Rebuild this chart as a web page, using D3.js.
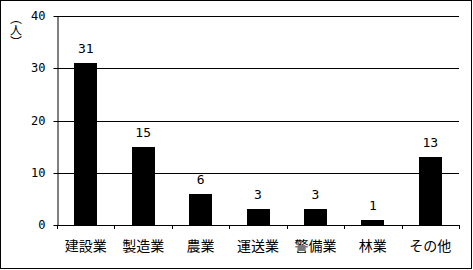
<!DOCTYPE html>
<html><head><meta charset="utf-8">
<script src="https://cdn.jsdelivr.net/npm/d3@7"></script>
<style>html,body{margin:0;padding:0;background:#fff;}svg{display:block;}</style>
</head><body>
<script>
const categories = ["建設業","製造業","農業","運送業","警備業","林業","その他"];
const values = [31,15,6,3,3,1,13];
const yTicks = [0,10,20,30,40];

const W = 473, H = 270;
const m = {left:57, right:14, top:16, bottom:45};
const svg = d3.select("body").append("svg").attr("width",W).attr("height",H);

svg.append("rect").attr("x",0.5).attr("y",0.5).attr("width",471).attr("height",268)
  .attr("fill","#fff").attr("stroke","#000").attr("stroke-width",1);

const x = d3.scaleBand().domain(categories).range([m.left, W-m.right]).paddingInner(0.6).paddingOuter(0.3);
const y = d3.scaleLinear().domain([0,40]).range([H-m.bottom, m.top]);

// gridlines
svg.append("g").selectAll("line").data(yTicks.filter(d=>d>0)).join("line")
  .attr("x1",m.left).attr("x2",W-m.right)
  .attr("y1",d=>Math.round(y(d))+0.5).attr("y2",d=>Math.round(y(d))+0.5)
  .attr("stroke","#000").attr("stroke-width",1);

// bars
svg.append("g").selectAll("rect").data(values).join("rect")
  .attr("x",(d,i)=>Math.round(x(categories[i])))
  .attr("width",Math.round(x.bandwidth()))
  .attr("y",d=>Math.round(y(d)))
  .attr("height",d=>Math.round(y(0))-Math.round(y(d)))
  .attr("fill","#000");

// y axis
const yAxis = svg.append("g").attr("transform",`translate(${m.left+0.5},0.5)`)
  .call(d3.axisLeft(y).tickValues(yTicks).tickSize(4).tickPadding(8).tickSizeOuter(0));
yAxis.selectAll("text").attr("font-family","'DejaVu Sans Mono', monospace").attr("font-size",12).attr("fill","#000");
yAxis.select(".domain").attr("stroke","#000");
yAxis.selectAll(".tick line").attr("stroke","#000");
yAxis.selectAll(".tick").attr("transform",d=>`translate(0,${Math.round(y(d))})`);

// x axis: ticks at band boundaries
const bounds = d3.range(categories.length+1).map(i=> m.left + i*(W-m.right-m.left)/categories.length);
const xg = svg.append("g");
xg.append("line").attr("x1",m.left).attr("x2",W-m.right)
  .attr("y1",Math.round(y(0))+0.5).attr("y2",Math.round(y(0))+0.5).attr("stroke","#000");
xg.selectAll("line.t").data(bounds).join("line").attr("class","t")
  .attr("x1",d=>Math.round(d)+0.5).attr("x2",d=>Math.round(d)+0.5)
  .attr("y1",Math.round(y(0))).attr("y2",Math.round(y(0))+4).attr("stroke","#000");
xg.selectAll("text").data(categories).join("text")
  .attr("x",d=>x(d)+x.bandwidth()/2).attr("y",251)
  .attr("text-anchor","middle")
  .attr("font-family","'Noto Sans CJK JP', sans-serif").attr("font-size",14).attr("fill","#000")
  .text(d=>d);

// value labels
svg.append("g").selectAll("text").data(values).join("text")
  .attr("x",(d,i)=>x(categories[i])+x.bandwidth()/2)
  .attr("y",d=>y(d)-10)
  .attr("text-anchor","middle")
  .attr("font-family","'DejaVu Sans Mono', monospace").attr("font-size",13).attr("fill","#000")
  .text(d=>d);

// y label (vertical)
svg.append("text")
  .attr("x",16).attr("y",12)
  .attr("writing-mode","vertical-rl")
  .style("writing-mode","vertical-rl")
  .attr("font-family","'Noto Sans CJK JP', sans-serif").attr("font-size",12).attr("fill","#000")
  .text("（人）");
</script>
</body></html>
